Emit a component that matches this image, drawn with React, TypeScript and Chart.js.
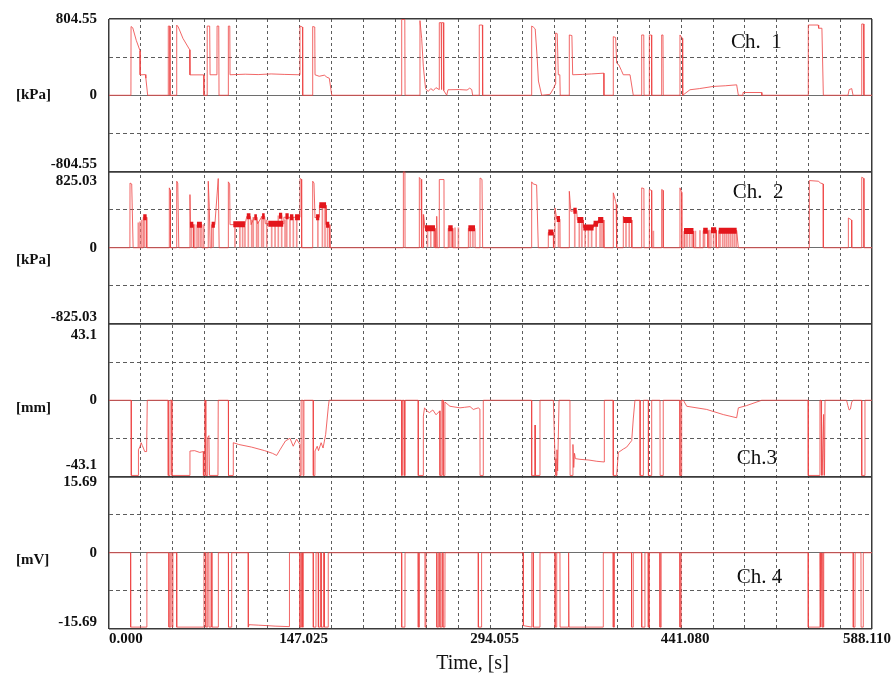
import { useEffect, useRef } from 'react';
import { Chart, registerables } from 'chart.js';

Chart.register(...registerables);

// ---------- data ----------
const TIME_MAX = 588.11;
const X_DIVISIONS = 24;
const xTickTimes = [0, 147.025, 294.055, 441.08, 588.11];
const xTickLabels = ['0.000', '147.025', '294.055', '441.080', '588.110'];
const xTitle = 'Time, [s]';

const channelNames = ['Ch.  1', 'Ch.  2', 'Ch.3', 'Ch. 4'];
const channelUnits = ['[kPa]', '[kPa]', '[mm]', '[mV]'];
const channelRanges = [804.55, 825.03, 43.1, 15.69];
const channelTickLabels = [
  ['804.55', '0', '-804.55'],
  ['825.03', '0', '-825.03'],
  ['43.1', '0', '-43.1'],
  ['15.69', '0', '-15.69'],
];

// [time s, value]
const ch1Points: [number, number][] = [
  [0, 0], [16.9, 0], [17.0, 725], [18.3, 712], [21.0, 580], [23.9, 470], [24.0, 215], [28.0, 218], [28.4, 180], [29.8, 0],
  [45.6, 0], [45.7, 730], [46.9, 730], [47.0, 0], [52.1, 0], [52.2, 740], [53.4, 720], [57.0, 600], [62.2, 480], [62.4, 215], [73.0, 215], [73.2, 0],
  [75.6, 0], [75.7, 730], [77.6, 730], [77.9, 216], [83.2, 216], [83.3, 730], [84.6, 730], [84.8, 0],
  [91.9, 0], [92.0, 730], [93.1, 730], [93.3, 216], [105, 222], [115, 218], [125, 225], [135, 220], [147.1, 216], [147.2, 730], [149.1, 720], [149.3, 0],
  [156.9, 0], [157.0, 725], [158.6, 720], [158.8, 216], [162, 200], [166, 212], [168, 190], [169.8, 180], [171.7, 0],
  [225.5, 0], [225.6, 800], [228.0, 800], [228.2, 0],
  [239.6, 0], [239.7, 787], [241.0, 600], [242.3, 300], [244, 70], [246, 40], [248, 70], [250, 50], [252, 80], [254.5, 60], [254.6, 766], [256.0, 766], [256.2, 60], [256.5, 766], [257.7, 766], [258.0, 50], [260.3, 0], [261.3, 58], [270, 60], [276, 55], [278, 75], [279.6, 60], [280.3, 0],
  [285.3, 0], [285.4, 741], [287.8, 741], [288.0, 0],
  [325.7, 0], [325.8, 730], [327.0, 720], [328.5, 700], [330.0, 400], [331.0, 150], [333.5, 0], [340, 10], [342.5, 70], [344.2, 120], [344.3, 657], [345.5, 650], [346.3, 216], [347.5, 216], [347.8, 0],
  [354.7, 0], [354.8, 636], [356.8, 630], [357.4, 216], [365, 220], [372, 225], [381.4, 233], [381.5, 0],
  [388.6, 0], [388.7, 618], [390.5, 610], [391.3, 339], [393, 320], [395, 260], [396.4, 216], [401.6, 216], [404.1, 0],
  [410.5, 0], [410.6, 636], [412.2, 636], [412.4, 0], [416.4, 0], [416.5, 636], [418.1, 636], [418.3, 0], [425.9, 0], [426.0, 636], [427.0, 636], [427.2, 0],
  [440.0, 0], [440.1, 636], [442.0, 600], [442.2, 0], [443.2, 10], [447.8, 58], [455, 70], [465.8, 93], [475, 100], [483.8, 110], [485.1, 0],
  [488.6, 0], [488.7, 29], [503.1, 29], [503.2, 0],
  [538.9, 0], [539.0, 741], [546.7, 741], [547.0, 707], [549.5, 707], [550.6, 0],
  [569.6, 0], [570.5, 60], [572.5, 70], [573.5, 0], [580.1, 0], [580.2, 752], [581.5, 752], [581.9, 0], [588.11, 0],
];

const ch2Points: [number, number][] = [
  [0, 0], [16.1, 0], [16.2, 700], [17.5, 690], [18.6, 0], [26.3, 0], [26.4, 330], [29.0, 330], [29.1, 0],
  [46.4, 0], [46.5, 648], [47.3, 620], [47.4, 0], [52.1, 0], [52.2, 720], [53.0, 700], [53.8, 0],
  [62.3, 0], [62.4, 575], [62.8, 250], [65.0, 250], [65.1, 0], [67.7, 0], [67.8, 250], [71.6, 250], [71.7, 0],
  [76.4, 0], [76.5, 720], [77.3, 450], [78.0, 0], [79.0, 0], [79.1, 250], [81.6, 250], [84.2, 749], [84.9, 0],
  [91.9, 0], [92.0, 713], [93.0, 690], [93.3, 250], [104.8, 250], [106.2, 340], [109.0, 340], [109.5, 250], [112.0, 330], [114.0, 330], [114.5, 260],
  [118.0, 340], [120.0, 340], [120.5, 260], [134.3, 260], [134.8, 330], [147.2, 330], [147.3, 749], [148.4, 740], [148.5, 0],
  [156.9, 0], [157.0, 720], [158.0, 700], [158.8, 322], [159.6, 330], [162.1, 330], [162.2, 460], [167.3, 460], [167.4, 250], [169.8, 250], [170.3, 0],
  [226.8, 0], [226.9, 825], [228.1, 825], [228.2, 0],
  [239.1, 0], [239.2, 760], [240.5, 740], [241.0, 0], [242.3, 0], [242.4, 358], [243.6, 210], [251.3, 210], [251.4, 0],
  [252.5, 0], [252.6, 340], [253.0, 0], [254.5, 0], [254.6, 738], [258.2, 738], [258.3, 0],
  [261.4, 0], [261.5, 210], [264.9, 210], [265.0, 0], [276.9, 0], [277.0, 210], [282.1, 210], [282.2, 0],
  [285.9, 0], [286.0, 755], [287.5, 740], [288.0, 0],
  [325.7, 0], [325.8, 713], [327, 690], [329.6, 680], [330.9, 0], [338.5, 0], [338.6, 165], [342.5, 165], [342.6, 0],
  [343.7, 0], [343.8, 430], [345.1, 310], [347.6, 310], [347.7, 0],
  [354.7, 0], [354.8, 611], [356.0, 394], [357.9, 400], [360.5, 400], [361.0, 300], [365.6, 300], [365.7, 220], [373.5, 220], [373.6, 260], [377.0, 260], [377.1, 300], [381.0, 300], [381.5, 0],
  [388.6, 0], [388.7, 594], [390.5, 500], [390.9, 470], [391.3, 0], [396.3, 0], [396.4, 340], [397, 300], [402.9, 300], [403.0, 0],
  [410.5, 0], [410.6, 648], [412.3, 640], [412.4, 0], [416.4, 0], [416.5, 630], [418.2, 620], [418.3, 0], [425.9, 0], [426.0, 630], [427.1, 620], [427.2, 0],
  [440.0, 0], [440.1, 648], [441.4, 600], [441.5, 0], [443.1, 0], [443.2, 180], [450.5, 180], [450.6, 0],
  [457.9, 0], [458.0, 185], [461.5, 185], [461.6, 0], [463.9, 0], [464.0, 190], [468.0, 190], [468.1, 0], [469.9, 0], [470.0, 185], [483.8, 185], [485.1, 0],
  [539.7, 0], [539.8, 727], [546.7, 720], [548.5, 700], [550.5, 690], [550.6, 0],
  [569.8, 0], [569.9, 322], [572.4, 300], [572.5, 0], [580.1, 0], [580.2, 763], [581.8, 750], [581.9, 0], [588.11, 0],
];

// dense oscillation blocks of channel 2: [start s, end s, level kPa]
const ch2Blocks: [number, number, number][] = [
  [26.4, 29.0, 330], [62.4, 65.0, 250], [67.8, 71.6, 250], [79.1, 81.6, 250], [95.8, 104.8, 255], [106.2, 109.0, 340],
  [112.0, 114.0, 330], [118.0, 120.0, 340], [122.8, 134.3, 260], [131.0, 133.5, 345], [136.0, 138.5, 340], [139.5, 142.1, 330],
  [143.4, 147.2, 330], [159.6, 162.1, 330], [162.1, 167.3, 460], [167.3, 169.8, 250], [243.6, 251.3, 210], [261.5, 264.9, 210],
  [277.0, 282.1, 210], [338.6, 342.5, 165], [345.1, 347.6, 310], [357.9, 360.5, 400], [361.0, 365.6, 300], [365.6, 370.8, 220],
  [370.8, 373.5, 220], [373.5, 377.0, 260], [377.0, 381.0, 300], [396.4, 402.9, 300], [443.2, 450.5, 180], [458.0, 461.5, 185],
  [464.0, 468.0, 190], [470.0, 483.8, 185],
];

// thin vertical drop lines of channel 2: [time s, level kPa]
const ch2Drops: [number, number][] = [
  [22.6, 270], [23.9, 280], [25.2, 300], [27.5, 330], [63.5, 250], [66.0, 250], [69.0, 250], [70.5, 250], [73.0, 250], [80.3, 250],
  [97.1, 255], [100.9, 255], [103.0, 255], [104.8, 255], [107.4, 340], [110.0, 300], [111.2, 330], [113.8, 330], [115.1, 280],
  [117.7, 340], [119.0, 340], [121.6, 300], [125.4, 260], [128.0, 260], [130.5, 345], [133.1, 345], [135.7, 300], [137.0, 340],
  [139.5, 330], [142.1, 330], [144.7, 330], [161.0, 330], [164.5, 460], [166.5, 460], [168.5, 250], [242.3, 358], [245.5, 210],
  [248.0, 210], [250.5, 210], [262.5, 210], [264.0, 210], [266.7, 215], [269.3, 215], [278.5, 210], [280.5, 210],
  [346.5, 310], [359.0, 400], [362.5, 300], [364.5, 300], [367.0, 220], [369.5, 220], [372.0, 220], [375.5, 260], [378.5, 300],
  [380.0, 300], [398.5, 300], [401.0, 300], [419.6, 180], [443.8, 180], [445.5, 180], [447.5, 180], [449.5, 180], [452.0, 180],
  [455.5, 185], [459.0, 185], [462.5, 190], [466.0, 190], [468.0, 190], [471.0, 185], [473.0, 185], [474.5, 185], [476.0, 185],
  [477.5, 185], [479.0, 185], [480.5, 185], [482.0, 185], [483.5, 185],
];

const ch3Points: [number, number][] = [
  [0, 0], [17.1, 0], [17.2, -42.5], [22.6, -42.5], [22.7, -28], [24, -26], [24.8, -24], [25.6, -25.5], [26.5, -27], [27.5, -29], [29.0, -29], [29.5, 0],
  [45.6, 0], [45.7, -42.5], [47.0, -42.5], [47.1, 0], [48.4, 0], [48.5, -42.5], [62.3, -42.5], [62.4, -28.7], [66, -28.5], [70, -29.5], [72.7, -29],
  [72.8, -42.5], [73.7, -42.5], [73.8, 0], [74.5, 0], [74.6, -42.5], [76.0, -42.5], [76.1, -21], [77.0, -20], [77.5, -42.5], [84.0, -42.5], [84.2, 0],
  [92.0, 0], [92.1, -42.5], [95.7, -42.5], [95.8, -24], [100, -25], [110, -26.5], [120, -28.5], [126, -30], [129.2, -31.2], [131.8, -28], [136, -23],
  [139.5, -21.5], [142, -26], [144.6, -22], [147.2, -25], [147.3, -42.5], [148.0, -42.5], [148.1, 0], [149.5, 0], [149.6, -42.5], [150.2, -42.5], [150.3, 0],
  [157.4, 0], [157.5, -42.5], [158.7, -42.5], [158.8, -28.7], [160.5, -26], [161.5, -28.5], [163.5, -24], [165, -27], [167.0, -19.3], [169.1, -3.4], [169.7, 0],
  [225.5, 0], [225.6, -42.5], [226.0, -42.5], [226.1, 0], [227.5, 0], [227.6, -42.5], [228.2, -42.5], [228.3, 0],
  [238.3, 0], [238.4, -42.5], [242.2, -42.5], [242.3, -9], [243.2, -4.3], [245, -6], [247, -7], [249.6, -5.5], [252.1, -8.2], [255.0, -6],
  [255.1, -42.5], [256.5, -42.5], [256.6, 0], [257.5, 0], [257.6, -42.5], [258.8, -42.5], [258.9, -1], [262.8, -3.4], [270.5, -4.3], [274, -4.0],
  [278.3, -3.6], [280.8, -5.2], [284.6, -4.3], [285.9, -5], [286.0, -42.5], [288.4, -42.5], [288.5, 0],
  [325.7, 0], [325.8, -42.5], [328.3, -42.5], [328.4, -14], [328.6, -42.5], [332.1, -42.5], [332.2, 0], [342.5, 0], [343.8, -33], [344.5, -42.5],
  [345.1, -42.5], [345.3, -28], [345.8, -40], [346.9, 0],
  [355.3, 0], [355.4, -42.5], [357.5, -42.5], [357.6, -25], [358.2, -38], [358.8, -30], [359.5, -33], [363, -33.4], [370, -33.8], [376, -34.5], [381.7, -34.9], [381.8, 0],
  [388.6, 0], [388.7, -42.5], [391.3, -42.5], [392.6, -29.5], [396.4, -27.6], [399.0, -26.5], [402.9, -22.8], [404.1, -10.6], [405.4, 0],
  [409.3, 0], [409.4, -42.5], [411.8, -42.5], [411.9, 0], [415.7, 0], [415.8, -42.5], [418.2, -42.5], [418.3, 0], [424.7, 0], [424.8, -42.5], [427.1, -42.5], [427.2, 0],
  [440.0, 0], [440.1, -42.5], [441.3, -42.5], [441.4, 0],
  [442.7, 0], [445.3, -3.4], [460.7, -5.2], [473.5, -8.1], [483.8, -9.9], [485.1, -4.3], [491.5, -3], [503.1, 0],
  [538.9, 0], [539.0, -42.5], [547.9, -42.5], [548.0, 0], [548.8, 0], [548.9, -42.5], [549.5, -8], [550.2, -42.5], [550.8, -8], [551.5, -42.5], [551.9, 0],
  [568.5, 0], [569.5, -3], [570.5, -5.5], [571.5, -5], [572.5, -1], [573.5, 0], [580.1, 0], [580.2, -42.5], [582.6, -42.5], [582.7, 0], [588.11, 0],
];

const ch4Points: [number, number][] = [
  [0, 0], [16.6, 0], [16.7, -15.3], [29.1, -15.3], [29.2, 0],
  [46.1, 0], [46.2, -15.3], [47.5, -15.3], [47.6, 0], [48.5, 0], [48.6, -15.3], [49.2, -15.3], [49.3, 0], [52.1, 0], [52.2, -15.3], [73.1, -15.3], [73.2, 0],
  [74.5, 0], [74.6, -15.3], [76.0, -15.3], [76.1, 0], [77.0, 0], [77.1, -15.3], [78.5, -15.3], [78.6, 0], [79.2, 0], [79.3, -15.3], [84.2, -15.3], [84.3, 0],
  [92.0, 0], [92.1, -15.3], [94.5, -15.3], [94.6, 0], [107.3, 0], [107.4, -15.3], [108, -14.8], [115, -14.9], [122, -15.0], [128, -15.1], [139.0, -15.2], [139.1, 0],
  [147.1, 0], [147.2, -15.3], [148.3, -15.3], [148.4, 0], [149.0, 0], [149.1, -15.3], [149.7, -15.3], [149.8, 0],
  [157.4, 0], [157.5, -15.3], [159.5, -15.3], [159.6, 0], [161.3, 0], [161.4, -15.3], [162.8, -15.3], [162.9, 0], [163.5, 0], [163.6, -15.3], [165.2, -15.3],
  [165.3, 0], [166.0, 0], [166.1, -15.3], [168.9, -15.3], [169.0, 0],
  [225.5, 0], [225.6, -15.3], [228.1, -15.3], [228.2, 0], [238.3, 0], [238.4, -15.3], [239.2, -15.3], [239.3, 0], [243.5, 0], [243.6, -15.3], [244.2, -15.3], [244.3, 0],
  [252.6, 0], [252.7, -15.3], [254.0, -15.3], [254.1, 0], [255.0, 0], [255.1, -15.3], [256.5, -15.3], [256.6, 0], [257.3, 0], [257.4, -15.3], [258.9, -15.3], [259.0, 0],
  [284.6, 0], [284.7, -15.3], [287.1, -15.3], [287.2, 0],
  [319.3, 0], [319.4, -15.0], [325.8, -15.3], [325.9, 0], [327.0, 0], [327.1, -15.3], [332.1, -15.3], [332.2, 0],
  [343.8, 0], [343.9, -15.3], [345.0, -15.3], [345.1, 0], [347.6, 0], [347.7, -15.3], [353.9, -15.3], [354.0, 0], [354.5, 0], [354.6, -15.3], [380.9, -15.3], [381.0, 0],
  [388.6, 0], [388.7, -15.3], [389.5, -15.3], [389.6, 0], [402.7, 0], [402.8, -15.3], [404.0, -15.3], [404.1, 0], [410.5, 0], [410.6, -15.3], [413.0, -15.3], [413.1, 0],
  [415.6, 0], [415.7, -15.3], [416.5, -15.3], [416.6, 0], [424.6, 0], [424.7, -15.3], [425.5, -15.3], [425.6, 0], [440.0, 0], [440.1, -15.3], [440.9, -15.3], [441.0, 0],
  [538.9, 0], [539.0, -15.3], [548.0, -15.3], [548.1, 0], [548.5, -15.3], [549.2, 0], [549.6, -15.3], [550.2, 0], [550.5, -15.3], [550.9, 0],
  [573.6, 0], [573.7, -15.3], [575.0, -15.3], [575.1, 0], [579.6, 0], [579.7, -15.3], [581.3, -15.3], [581.4, 0], [588.11, 0],
];

// ---------- layout / style (not data) ----------
const AXIS_IDS = ['y1', 'y2', 'y3', 'y4'];
const tickTopShift = [0, 10, 11, 6];
const tickBottomShift = [-7, -7, -11, -7];
const unitShift = [0, 12, 8, 7];
const chLabelPos: [number, number][] = [[479.4, 557], [480.7, 602], [483.8, -32.8], [483.8, -5.1]];
const TRACE = 'rgba(238,70,70,0.82)';
const BLOCK = '#e3161c';
const FRAME = '#3a3a3a';
const GRID = '#5c5c5c';

const toXY = (pts: [number, number][]) => pts.map(([x, y]) => ({ x, y }));

export default function App() {
  const ref = useRef<HTMLCanvasElement>(null);

  useEffect(() => {
    const canvas = ref.current as HTMLCanvasElement;
    const allPoints = [ch1Points, ch2Points, ch3Points, ch4Points];

    const blockData: any[] = [];
    ch2Blocks.forEach(([s, e, v]) => {
      blockData.push({ x: s, y: v }, { x: e, y: v }, { x: e, y: null });
    });

    const datasets: any[] = allPoints.map((pts, i) => ({
      type: 'line',
      data: toXY(pts),
      yAxisID: AXIS_IDS[i],
      borderColor: TRACE,
      borderWidth: 1,
      pointRadius: 0,
      tension: 0,
      fill: false,
      order: 2,
    }));
    datasets.push({
      type: 'bar',
      data: toXY(ch2Drops),
      yAxisID: 'y2',
      backgroundColor: 'rgba(240,110,110,0.75)',
      borderWidth: 0,
      barThickness: 1,
      grouped: false,
      order: 3,
    });
    datasets.push({
      type: 'line',
      data: blockData,
      yAxisID: 'y2',
      borderColor: BLOCK,
      borderWidth: 6,
      borderCapStyle: 'butt',
      pointRadius: 0,
      spanGaps: false,
      tension: 0,
      fill: false,
      order: 1,
    });

    const yScales: any = {};
    AXIS_IDS.forEach((id, i) => {
      const M = channelRanges[i];
      yScales[id] = {
        type: 'linear',
        position: 'left',
        stack: 'channels',
        stackWeight: 1,
        weight: 4 - i,
        offset: false,
        min: -M,
        max: M,
        afterBuildTicks: (s: any) => {
          s.ticks = [-M, -M / 2, 0, M / 2, M].map((value) => ({ value }));
        },
        afterFit: (s: any) => {
          s.width = 109;
        },
        ticks: { display: false },
        grid: {
          offset: false,
          drawTicks: false,
          color: (c: any) => (c.index === 0 || c.index === 4 ? FRAME : c.index === 2 ? '#6e6e6e' : GRID),
          lineWidth: (c: any) => (c.index === 0 || c.index === 4 ? 1.5 : 1),
        },
        border: {
          display: false,
          dash: (c: any) => (c.index === 1 || c.index === 3 ? [4, 3] : []),
        },
      };
    });

    const gridTimes: number[] = [];
    for (let k = 0; k <= X_DIVISIONS; k++) gridTimes.push((TIME_MAX * k) / X_DIVISIONS);

    const textPlugin = {
      id: 'panelText',
      afterDraw(chart: any) {
        const ctx = chart.ctx;
        const area = chart.chartArea;
        const xs = chart.scales.x;
        ctx.save();
        ctx.fillStyle = '#111';
        ctx.textBaseline = 'middle';
        AXIS_IDS.forEach((id, i) => {
          const ys = chart.scales[id];
          const M = channelRanges[i];
          const labels = channelTickLabels[i];
          const lx = area.left - 12;
          ctx.font = 'bold 15px "Liberation Serif"';
          ctx.textAlign = 'right';
          ctx.fillText(labels[0], lx, ys.getPixelForValue(M) + tickTopShift[i]);
          ctx.fillText(labels[1], lx, ys.getPixelForValue(0));
          ctx.fillText(labels[2], lx, ys.getPixelForValue(-M) + tickBottomShift[i]);
          ctx.textAlign = 'left';
          ctx.fillText(channelUnits[i], 16, ys.getPixelForValue(0) + unitShift[i]);
          ctx.font = '21px "Liberation Serif"';
          const [lt, lv] = chLabelPos[i];
          ctx.fillText(channelNames[i], xs.getPixelForValue(lt), ys.getPixelForValue(lv));
        });
        ctx.font = 'bold 15px "Liberation Serif"';
        const ly = area.bottom + 10;
        xTickTimes.forEach((t, k) => {
          const px = xs.getPixelForValue(t);
          if (k === 0) {
            ctx.textAlign = 'left';
            ctx.fillText(xTickLabels[k], px, ly);
          } else if (k === xTickTimes.length - 1) {
            ctx.textAlign = 'center';
            ctx.fillText(xTickLabels[k], px - 5, ly);
          } else {
            ctx.textAlign = 'center';
            ctx.fillText(xTickLabels[k], px + 4, ly);
          }
        });
        ctx.font = '20px "Liberation Serif"';
        ctx.textAlign = 'center';
        ctx.fillText(xTitle, (area.left + area.right) / 2 - 18, area.bottom + 35);
        ctx.restore();
      },
    };

    const chart = new Chart(canvas, {
      type: 'line',
      data: { datasets },
      options: {
        animation: false,
        responsive: false,
        maintainAspectRatio: false,
        devicePixelRatio: 1,
        events: [],
        layout: { padding: { top: 19, right: 21, bottom: 0, left: 0 } },
        plugins: { legend: { display: false }, tooltip: { enabled: false } },
        scales: {
          x: {
            type: 'linear',
            position: 'bottom',
            offset: false,
            min: 0,
            max: TIME_MAX,
            afterBuildTicks: (s: any) => {
              s.ticks = gridTimes.map((value) => ({ value }));
            },
            afterFit: (s: any) => {
              s.height = 46;
            },
            ticks: { display: false },
            grid: {
              offset: false,
              drawTicks: false,
              color: (c: any) => (c.index === 0 || c.index === X_DIVISIONS ? FRAME : GRID),
              lineWidth: (c: any) => (c.index === 0 || c.index === X_DIVISIONS ? 1.5 : 1),
            },
            border: {
              display: false,
              dash: (c: any) => (c.index === 0 || c.index === X_DIVISIONS ? [] : [3, 3]),
            },
          },
          ...yScales,
        },
      } as any,
      plugins: [textPlugin],
    } as any);

    return () => chart.destroy();
  }, []);

  return (
    <div style={{ position: 'fixed', left: 0, top: 0, width: 893, height: 675, background: '#fff' }}>
      <canvas ref={ref} width={893} height={675} style={{ display: 'block' }} />
    </div>
  );
}
